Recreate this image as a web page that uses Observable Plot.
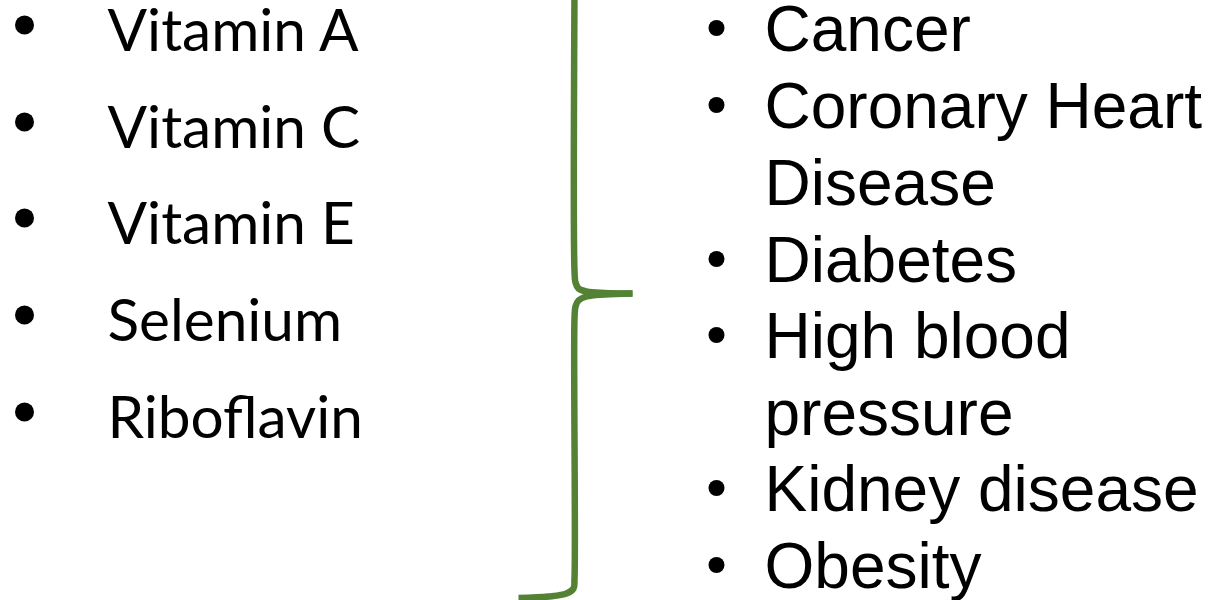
<!DOCTYPE html>
<html><head><meta charset="utf-8">
<script src="https://cdn.jsdelivr.net/npm/d3@7"></script>
<script src="https://cdn.jsdelivr.net/npm/@observablehq/plot@0.6"></script>
<style>html,body{margin:0;padding:0;background:#fff;overflow:hidden}</style>
</head><body><div id="chart"></div>
<script>
// Left list: nutrients
const nutrients = ["Vitamin A", "Vitamin C", "Vitamin E", "Selenium", "Riboflavin"];
const nutrientBaselines = [50, 147, 243, 340, 437];
// Right list: conditions (wrapped lines; bullet only on first line of an item)
const conditionLines = ["Cancer", "Coronary Heart", "Disease", "Diabetes", "High blood", "pressure", "Kidney disease", "Obesity"];
const conditionHasBullet = [true, true, false, true, true, false, true, true];
const conditionBaselines = [50, 127, 204, 281, 357, 434, 510, 587];
// Brace outline points (upper half and lower half)
const braceUpperX = [574, 574, 575, 578, 586, 604, 632];
const braceUpperY = [-10, 270, 282, 288, 291, 292.5, 293];
const braceLowerX = [632, 604, 586, 578, 575, 574, 574, 573, 566, 548, 518];
const braceLowerY = [293, 294, 296, 300, 306, 318, 578, 588, 593, 596, 597.5];

const leftText = nutrients.map((t, i) => ({t, x: 107, y: nutrientBaselines[i]}));
const leftBullets = nutrients.map((t, i) => ({x: 24, y: nutrientBaselines[i] - 25.5}));
const rightText = conditionLines.map((t, i) => ({t, x: 764, y: conditionBaselines[i]}));
const rightBullets = conditionLines.map((t, i) => ({x: 716, y: conditionBaselines[i] - 22.5, b: conditionHasBullet[i]})).filter(d => d.b);
const brace = [
  ...braceUpperX.map((x, i) => ({x, y: braceUpperY[i], part: "upper"})),
  ...braceLowerX.map((x, i) => ({x, y: braceLowerY[i], part: "lower"}))
];

const chart = Plot.plot({
  width: 1212,
  height: 600,
  margin: 0,
  x: {domain: [0, 1212], range: [0, 1212], axis: null},
  y: {domain: [0, 600], range: [0, 600], axis: null},
  style: {background: "#ffffff"},
  marks: [
    Plot.line(brace, {x: "x", y: "y", z: "part", curve: "catmull-rom", stroke: "#548235", strokeWidth: 6.5, strokeLinecap: "butt", strokeLinejoin: "round"}),
    Plot.dot(leftBullets, {x: "x", y: "y", r: 9.5, fill: "#000", stroke: null}),
    Plot.dot(rightBullets, {x: "x", y: "y", r: 8, fill: "#000", stroke: null}),
    Plot.text(leftText, {x: "x", y: "y", text: "t", textAnchor: "start", lineAnchor: "bottom", fontSize: 58.5, fontFamily: "Lato", fill: "#000"}),
    Plot.text(rightText, {x: "x", y: "y", text: "t", textAnchor: "start", lineAnchor: "bottom", fontSize: 64, fontFamily: "Liberation Sans", fill: "#000"})
  ]
});
document.getElementById("chart").appendChild(chart);
</script>
</body></html>
